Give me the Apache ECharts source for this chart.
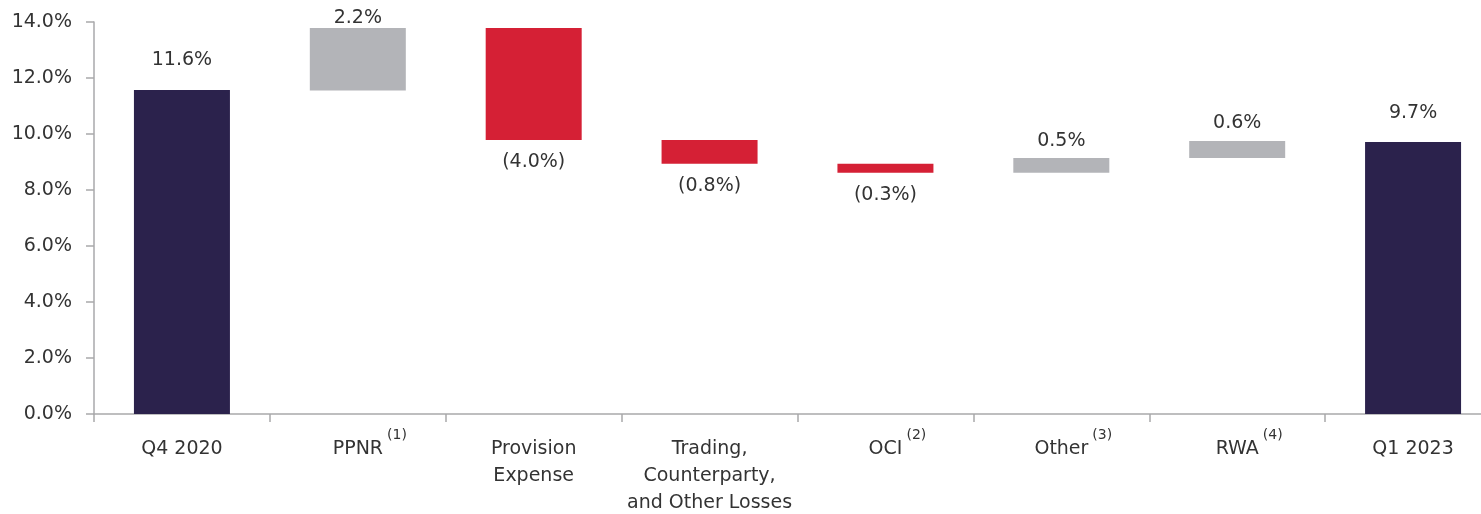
<!DOCTYPE html>
<html>
<head>
<meta charset="utf-8">
<title>Capital waterfall</title>
<script src="https://cdn.jsdelivr.net/npm/echarts@6/dist/echarts.min.js"></script>
<style>
  html, body { margin: 0; padding: 0; background: #ffffff; }
  #chart { width: 1481px; height: 514px; }
</style>
</head>
<body>
<div id="chart"></div>
<script>
// categories and footnote markers
var categories = ['Q4 2020', 'PPNR', 'Provision\nExpense', 'Trading,\nCounterparty,\nand Other Losses', 'OCI', 'Other', 'RWA', 'Q1 2023'];
var notes = ['', '(1)', '', '', '(2)', '(3)', '(4)', ''];
// bar kind: total / up / down
var kinds = ['total', 'up', 'down', 'down', 'down', 'up', 'up', 'total'];
// invisible base and visible height of each bar (%)
var barBase = [0, 11.55, 9.79, 8.94, 8.62, 8.62, 9.14, 0];
var barHeight = [11.57, 2.24, 4.0, 0.85, 0.32, 0.52, 0.61, 9.71];
// printed labels
var labelText = ['11.6%', '2.2%', '(4.0%)', '(0.8%)', '(0.3%)', '0.5%', '0.6%', '9.7%'];
var yTicks = { min: 0, max: 14, interval: 2 };

var font = 'DejaVu Sans';
var textColor = '#333333';
var axisColor = '#a9a9ab';

function pick(kind) {
	return barHeight.map(function (v, i) {
		return kinds[i] == kind ? v : '-';
	});
}

function barLabel(position, distance) {
	return {
		show: true,
		position: position,
		distance: distance,
		color: textColor,
		fontFamily: font,
		fontSize: 19,
		formatter: function (p) {
			return labelText[p.dataIndex];
		}
	};
}

var chart = echarts.init(document.getElementById('chart'));
var option = {
	animation: false,
	grid: {
		left: 94,
		top: 22,
		width: 1407,
		height: 392,
		containLabel: false,
		outerBoundsMode: 'none'
	},
	xAxis: {
		type: 'category',
		data: categories,
		axisLine: { show: true, lineStyle: { color: axisColor, width: 1.5 } },
		axisTick: { show: true, length: 8, lineStyle: { color: axisColor, width: 1.5 } },
		axisLabel: {
			interval: 0,
			margin: 22,
			color: textColor,
			fontFamily: font,
			formatter: function (value, idx) {
				var lines = value.split('\n');
				var out = lines.map(function (line, k) {
					if (k == 0 && notes[idx]) {
						return '{ms|' + line + '}{s|' + notes[idx] + '}';
					}
					return '{m|' + line + '}';
				});
				return out.join('\n');
			},
			rich: {
				m: { fontSize: 19, fontFamily: font, color: textColor, lineHeight: 27 },
				ms: { fontSize: 19, fontFamily: font, color: textColor, lineHeight: 27, padding: [0, 4, 0, 24] },
				s: { fontSize: 14, fontFamily: font, color: textColor, lineHeight: 27, padding: [0, 0, 28, 0] }
			}
		}
	},
	yAxis: {
		type: 'value',
		min: yTicks.min,
		max: yTicks.max,
		interval: yTicks.interval,
		axisLine: { show: true, lineStyle: { color: axisColor, width: 1.5 } },
		axisTick: { show: true, length: 8, lineStyle: { color: axisColor, width: 1.5 } },
		splitLine: { show: false },
		axisLabel: {
			margin: 22,
			color: textColor,
			fontFamily: font,
			fontSize: 19,
			formatter: function (v) {
				return v.toFixed(1) + '%';
			}
		}
	},
	series: [
		{
			name: 'base',
			type: 'bar',
			stack: 'w',
			barWidth: 96,
			silent: true,
			itemStyle: { color: 'transparent' },
			data: barBase
		},
		{
			name: 'total',
			type: 'bar',
			stack: 'w',
			barWidth: 96,
			itemStyle: { color: '#2b224c' },
			label: barLabel('top', 20),
			data: pick('total')
		},
		{
			name: 'up',
			type: 'bar',
			stack: 'w',
			barWidth: 96,
			itemStyle: { color: '#b3b4b8' },
			label: barLabel('top', 8),
			// keep the top label from hugging the page edge
			labelLayout: function (p) {
				return p.labelRect.y < 6 ? { dy: 8 } : {};
			},
			data: pick('up')
		},
		{
			name: 'down',
			type: 'bar',
			stack: 'w',
			barWidth: 96,
			itemStyle: { color: '#d52035' },
			label: barLabel('bottom', 13),
			data: pick('down')
		}
	]
};
chart.setOption(option);
</script>
</body>
</html>
